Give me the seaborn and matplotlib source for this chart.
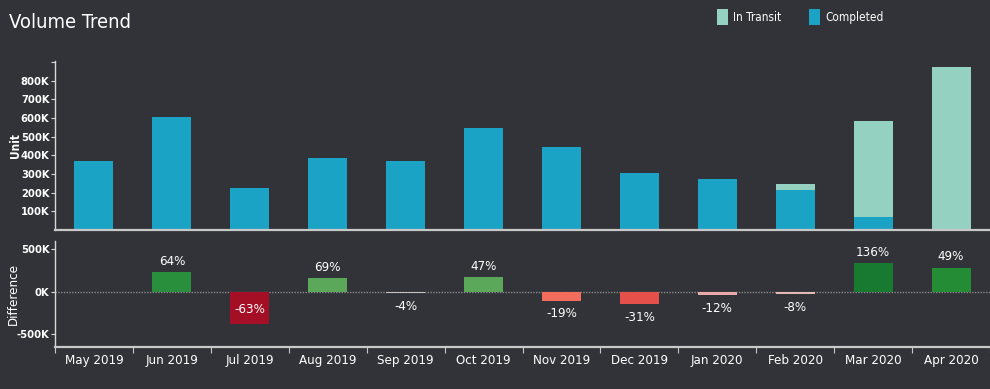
import numpy as np
import pandas as pd
import matplotlib
matplotlib.use("Agg")
import matplotlib.pyplot as plt
import seaborn as sns
from matplotlib.patches import Patch
from matplotlib.ticker import FuncFormatter

months = ["May 2019", "Jun 2019", "Jul 2019", "Aug 2019", "Sep 2019", "Oct 2019",
          "Nov 2019", "Dec 2019", "Jan 2020", "Feb 2020", "Mar 2020", "Apr 2020"]
completed = [370000, 607000, 225000, 385000, 370000, 547000,
             445000, 306000, 271000, 216000, 70000, 0]
in_transit = [0, 0, 0, 0, 0, 0, 0, 0, 0, 33000, 515000, 872000]
difference = [0, 237000, -382000, 160000, -15000, 177000,
              -102000, -139000, -35000, -22000, 336000, 287000]
pct_labels = ["", "64%", "-63%", "69%", "-4%", "47%",
              "-19%", "-31%", "-12%", "-8%", "136%", "49%"]

diff_colors = ["#313338", "#2a8f3c", "#a50f25", "#5ca85a", "#c9c0c0", "#5ca85a",
               "#f36d5c", "#e5514a", "#e8aaa8", "#e6b7b7", "#177a30", "#238c35"]

BG = "#313338"
C_DONE = "#1ba3c6"
C_TRANSIT = "#94d1c0"
TXT = "#ffffff"

sns.set_theme(style="dark")
plt.rcParams["font.family"] = ["DejaVu Sans"]
plt.rcParams["font.stretch"] = "condensed"

df = pd.DataFrame({"month": months, "completed": completed, "transit": in_transit,
                   "diff": difference})
df["total"] = df["completed"] + df["transit"]

W, H = 990, 389
fig = plt.figure(figsize=(W / 100, H / 100), dpi=100, facecolor=BG)

def ax_rect(x0, y0, x1, y1):
    return [x0 / W, 1 - y1 / H, (x1 - x0) / W, (y1 - y0) / H]

AX_L, AX_R = 55, 990
ax1 = fig.add_axes(ax_rect(AX_L, 61, AX_R, 230))
ax2 = fig.add_axes(ax_rect(AX_L, 241, AX_R, 347))

for ax in (ax1, ax2):
    ax.set_facecolor(BG)
    ax.grid(False)
    for s in ("top", "right"):
        ax.spines[s].set_visible(False)
    ax.spines["left"].set_color("#d8d8d8")
    ax.spines["bottom"].set_color("#c8c8c8")
    ax.spines["bottom"].set_linewidth(1.6)
    ax.spines["left"].set_linewidth(1.0)

bar_kw = dict(width=0.5, saturation=1, errorbar=None, edgecolor="none", linewidth=0)

def kfmt(v, p):
    if v >= 890000:
        return ""
    return f"{int(round(v / 1000))}K"

# top stacked bars
sns.barplot(data=df, x="month", y="total", color=C_TRANSIT, ax=ax1, **bar_kw)
sns.barplot(data=df, x="month", y="completed", color=C_DONE, ax=ax1, **bar_kw)
ax1.set_xlim(-0.5, 11.5)
ax1.set_ylim(0, 905000)
ax1.set_yticks(np.arange(100000, 1000000, 100000))
ax1.yaxis.set_major_formatter(FuncFormatter(kfmt))
ax1.set_xticks([])
ax1.set_xlabel("")
ax1.set_ylabel("Unit", color=TXT, fontsize=8.5, fontweight="bold")
ax1.yaxis.set_label_coords((22 - AX_L) / (AX_R - AX_L), 0.5)
ax1.tick_params(axis="y", colors="#d8d8d8", labelcolor=TXT, labelsize=8,
                length=3, width=0.8, pad=1, left=True)
for t in ax1.get_yticklabels():
    t.set_fontweight("bold")

# bottom difference bars
sns.barplot(data=df, x="month", y="diff", hue="month", palette=diff_colors,
            ax=ax2, legend=False, **bar_kw)
ax2.set_xlim(-0.5, 11.5)
ax2.set_ylim(-650000, 600000)
ax2.axhline(0, color="#8a8a8a", linestyle=(0, (1, 1)), linewidth=1, zorder=0)
ax2.set_yticks([-500000, 0, 500000])
ax2.yaxis.set_major_formatter(FuncFormatter(kfmt))
ax2.set_xticks(np.arange(12))
ax2.set_xticklabels(months)
ax2.set_xticks(np.arange(-0.5, 12, 1.0), minor=True)
ax2.tick_params(axis="x", which="major", length=0, labelcolor=TXT, labelsize=9.5, pad=5)
ax2.tick_params(axis="x", which="minor", length=4, width=0.8, colors="#c8c8c8", bottom=True)
ax2.tick_params(axis="y", colors="#d8d8d8", labelcolor=TXT, labelsize=8,
                length=3, width=0.8, pad=1, left=True)
for t in ax2.get_yticklabels():
    t.set_fontweight("bold")
ax2.set_xlabel("")
ax2.set_ylabel("Difference", color=TXT, fontsize=9.5)
ax2.yaxis.set_label_coords((20 - AX_L) / (AX_R - AX_L), 0.5)

for i, (d, lab) in enumerate(zip(difference, pct_labels)):
    if not lab:
        continue
    if d >= 0:
        ax2.annotate(lab, (i, d), xytext=(0, 3), textcoords="offset points",
                     ha="center", va="bottom", color=TXT, fontsize=9.5)
    elif d < -300000:
        ax2.annotate(lab, (i, d), xytext=(0, 6), textcoords="offset points",
                     ha="center", va="bottom", color=TXT, fontsize=9.5)
    else:
        ax2.annotate(lab, (i, d), xytext=(0, -5), textcoords="offset points",
                     ha="center", va="top", color=TXT, fontsize=9.5)

fig.text(9 / W, 1 - 22 / H, "Volume Trend", color=TXT, fontsize=14.5,
         ha="left", va="center")

handles = [Patch(facecolor=C_TRANSIT, edgecolor="none", label="In Transit"),
           Patch(facecolor=C_DONE, edgecolor="none", label="Completed")]
leg = fig.legend(handles=handles, loc="center left", bbox_to_anchor=(706 / W, 1 - 17 / H),
                 ncol=2, frameon=False, fontsize=8.5, handlelength=1.0, handleheight=1.8,
                 handletextpad=0.4, columnspacing=2.3, labelcolor=TXT)

fig.savefig("out.png", dpi=100, facecolor=BG)
